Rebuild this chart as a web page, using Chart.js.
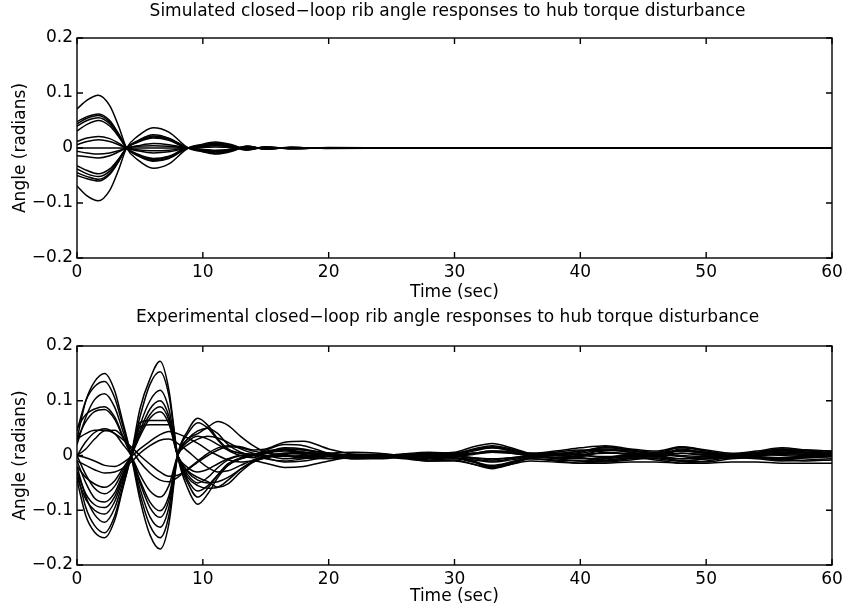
<!DOCTYPE html>
<html>
<head>
<meta charset="utf-8">
<script src="https://cdn.jsdelivr.net/npm/chart.js@4.4.1/dist/chart.umd.min.js"></script>
<style>
    body { margin: 0; background: #fff; }
    canvas { display: block; }
</style>
</head>
<body>
<canvas id="grafico_sim" width="848" height="305"></canvas>
<canvas id="grafico_exp" width="848" height="304"></canvas>
<script>
// tempos (s) onde as curvas foram lidas
const tempoSim = [0, 0.8, 1.7, 2.6, 3.3, 3.94, 4.8, 6.06, 7.3, 8.84, 9.8, 11, 12.3, 13.5, 15, 17, 20, 25, 30, 60];

const sim01 = [0.071, 0.087, 0.096, 0.077, 0.040, 0, -0.021, -0.037, -0.029, 0, 0.006, 0.011, 0.006, -0.003, 0.002, -0.0015, 0.001, 0.0003, 0, 0];
const sim02 = [0.048, 0.057, 0.062, 0.050, 0.026, 0, -0.014, -0.024, -0.019, 0, 0.004, 0.007, 0.004, -0.002, 0.0015, -0.001, 0.0006, 0.0002, 0, 0];
const sim03 = [0.044, 0.054, 0.059, 0.047, 0.025, 0, -0.013, -0.023, -0.018, 0, -0.003, -0.006, -0.002, 0.003, -0.001, 0.001, -0.0005, 0.0002, 0, 0];
const sim04 = [0.040, 0.050, 0.055, 0.044, 0.023, 0, -0.012, -0.021, -0.016, 0, 0.005, 0.008, 0.002, -0.004, 0.002, -0.001, 0.0005, 0, 0, 0];
const sim05 = [0.031, 0.043, 0.050, 0.040, 0.021, 0, -0.011, -0.019, -0.015, 0, -0.004, -0.009, -0.005, 0.002, -0.002, 0.001, -0.0005, 0, 0, 0];
const sim06 = [0.012, 0.018, 0.021, 0.017, 0.009, 0, -0.005, -0.009, -0.007, 0, 0.002, 0.004, 0.002, -0.001, 0.001, 0, 0, 0, 0, 0];
const sim07 = [0.006, 0.012, 0.015, 0.012, 0.006, 0, -0.003, -0.005, -0.004, 0, -0.003, -0.005, -0.002, 0.002, -0.001, 0.0005, 0, 0, 0, 0];
const sim08 = [0, 0, 0, 0, 0, 0, 0, 0, 0, 0, 0.001, 0.002, 0.001, 0, 0, 0, 0, 0, 0, 0];
const sim09 = [-0.006, -0.009, -0.011, -0.009, -0.005, 0, 0.003, 0.004, 0.003, 0, 0.003, 0.006, 0.003, -0.002, 0.001, 0, 0, 0, 0, 0];
const sim10 = [-0.014, -0.016, -0.018, -0.014, -0.007, 0, 0.004, 0.008, 0.006, 0, -0.002, -0.004, -0.003, 0.001, -0.001, 0, 0, 0, 0, 0];
const sim11 = [-0.032, -0.041, -0.047, -0.038, -0.020, 0, 0.010, 0.018, 0.014, 0, 0.004, 0.009, 0.005, -0.002, 0.002, -0.001, 0.0005, 0, 0, 0];
const sim12 = [-0.038, -0.047, -0.052, -0.042, -0.022, 0, 0.011, 0.020, 0.016, 0, -0.005, -0.010, -0.004, 0.003, -0.002, 0.001, -0.0005, 0, 0, 0];
const sim13 = [-0.045, -0.052, -0.057, -0.046, -0.024, 0, 0.012, 0.022, 0.017, 0, 0.003, 0.006, 0.002, -0.003, 0.001, -0.001, 0, 0, 0, 0];
const sim14 = [-0.050, -0.056, -0.060, -0.048, -0.025, 0, 0.013, 0.024, 0.018, 0, -0.004, -0.007, -0.003, 0.002, -0.001, 0.001, 0, 0, 0, 0];
const sim15 = [-0.069, -0.087, -0.096, -0.077, -0.040, 0, 0.021, 0.037, 0.029, 0, -0.006, -0.011, -0.006, 0.003, -0.002, 0.0015, -0.001, -0.0003, 0, 0];

const tempoExp = [0, 0.7, 1.4, 2.2, 3.0, 3.6, 4.3, 5.0, 5.8, 6.6, 7.3, 8.0, 8.8, 9.6, 10.4, 11.2, 12.0, 13.0, 14.0, 15.0, 16.5, 18.0, 20, 22, 24, 26, 28, 30, 31.5, 33, 34.5, 36, 38, 40, 42, 44, 46, 48, 50, 52, 54, 56, 58, 60];

const exp01 = [0.03, 0.10, 0.135, 0.150, 0.118, 0.065, 0, -0.080, -0.145, -0.171, -0.125, 0, 0.045, 0.068, 0.055, 0.030, 0.012, 0.004, 0.002, 0.010, 0.020, 0.018, 0.004, -0.004, -0.002, 0.003, 0.006, 0.004, 0.012, 0.018, 0.012, 0.002, -0.004, 0.000, 0.010, 0.006, -0.002, 0.012, 0.004, -0.004, 0.002, 0.010, 0.004, 0.000];
const exp02 = [0.045, 0.100, 0.126, 0.135, 0.105, 0.058, 0, -0.070, -0.128, -0.150, -0.110, 0, 0.040, 0.060, 0.050, 0.028, 0.010, 0.000, -0.004, 0.004, 0.014, 0.012, 0.002, -0.006, -0.006, -0.002, 0.004, 0.006, 0.016, 0.022, 0.014, 0.004, 0.000, 0.006, 0.016, 0.010, 0.002, 0.016, 0.008, 0.000, 0.004, 0.012, 0.006, 0.004];
const exp03 = [0.02, 0.07, 0.102, 0.113, 0.088, 0.048, 0, -0.060, -0.112, -0.131, -0.095, 0, 0.030, 0.045, 0.050, 0.040, 0.020, 0.006, 0.000, -0.006, -0.010, -0.006, 0.000, 0.002, 0.000, -0.004, -0.008, -0.006, -0.012, -0.018, -0.012, -0.004, 0.000, -0.004, -0.008, -0.004, 0.000, -0.006, -0.002, 0.002, -0.002, -0.006, -0.002, 0.000];
const exp04 = [0.05, 0.075, 0.085, 0.089, 0.070, 0.038, 0, -0.050, -0.095, -0.113, -0.082, 0, 0.030, 0.040, 0.052, 0.062, 0.055, 0.035, 0.018, 0.006, 0.000, -0.004, -0.002, 0.000, 0.002, 0.000, -0.004, -0.002, 0.002, 0.006, 0.004, 0.000, 0.002, 0.008, 0.014, 0.010, 0.006, 0.014, 0.008, 0.002, 0.006, 0.012, 0.008, 0.006];
const exp05 = [0.03, 0.062, 0.080, 0.084, 0.066, 0.036, 0, -0.045, -0.085, -0.101, -0.074, 0, 0.025, 0.035, 0.030, 0.020, 0.010, 0.004, 0.002, 0.008, 0.012, 0.010, 0.004, 0.000, -0.002, -0.004, -0.002, 0.000, -0.006, -0.010, -0.006, 0.000, 0.004, 0.002, -0.004, -0.002, 0.002, -0.002, -0.006, -0.004, 0.000, 0.004, 0.002, 0.002];
const exp06 = [0.00, 0.025, 0.042, 0.049, 0.040, 0.022, 0, -0.035, -0.065, -0.076, -0.055, 0, 0.020, 0.030, 0.035, 0.032, 0.024, 0.012, 0.004, 0.000, -0.002, 0.000, 0.004, 0.006, 0.004, 0.000, -0.002, 0.000, 0.004, 0.008, 0.006, 0.002, 0.006, 0.010, 0.006, 0.002, 0.004, 0.008, 0.004, 0.000, 0.004, 0.008, 0.010, 0.008];
const exp07 = [-0.03, -0.095, -0.128, -0.141, -0.110, -0.060, 0, 0.085, 0.140, 0.172, 0.120, 0, -0.060, -0.089, -0.070, -0.040, -0.018, -0.006, 0.000, 0.006, 0.010, 0.006, -0.002, -0.006, -0.004, 0.000, 0.002, 0.000, -0.010, -0.020, -0.012, -0.004, -0.004, -0.002, 0.006, 0.002, -0.002, 0.004, 0.000, -0.002, 0.000, 0.004, 0.002, 0.000];
const exp08 = [-0.045, -0.110, -0.140, -0.150, -0.118, -0.064, 0, 0.070, 0.130, 0.153, 0.110, 0, -0.050, -0.076, -0.060, -0.035, -0.015, -0.004, 0.002, -0.004, -0.012, -0.010, -0.002, 0.002, 0.000, -0.004, -0.006, -0.004, -0.012, -0.022, -0.014, -0.006, -0.010, -0.014, -0.010, -0.004, -0.008, -0.014, -0.010, -0.004, -0.006, -0.010, -0.008, -0.006];
const exp09 = [-0.02, -0.075, -0.108, -0.122, -0.096, -0.052, 0, 0.055, 0.100, 0.119, 0.085, 0, -0.040, -0.055, -0.060, -0.058, -0.045, -0.025, -0.010, -0.002, 0.004, 0.002, -0.002, -0.004, -0.002, 0.000, 0.002, 0.002, 0.008, 0.014, 0.008, 0.002, 0.000, 0.004, 0.010, 0.006, 0.000, 0.008, 0.004, 0.000, 0.002, 0.006, 0.004, 0.002];
const exp10 = [-0.04, -0.080, -0.100, -0.107, -0.084, -0.045, 0, 0.045, 0.085, 0.100, 0.072, 0, -0.035, -0.050, -0.040, -0.022, -0.008, 0.000, 0.002, 0.000, -0.006, -0.004, 0.000, 0.002, 0.002, 0.000, -0.002, -0.004, -0.008, -0.012, -0.008, -0.002, 0.000, -0.004, -0.010, -0.006, -0.002, -0.010, -0.006, -0.002, -0.004, -0.008, -0.004, -0.002];
const exp11 = [0.00, -0.035, -0.060, -0.070, -0.056, -0.030, 0, 0.040, 0.075, 0.089, 0.065, 0, -0.028, -0.040, -0.048, -0.058, -0.052, -0.030, -0.012, -0.004, 0.002, 0.004, 0.002, 0.000, -0.002, -0.002, 0.000, 0.002, 0.004, 0.006, 0.004, 0.000, -0.004, -0.006, -0.004, 0.000, -0.002, -0.006, -0.004, 0.000, -0.002, -0.004, -0.002, -0.002];
const exp12 = [-0.02, -0.040, -0.052, -0.058, -0.046, -0.025, 0, 0.035, 0.068, 0.080, 0.058, 0, -0.022, -0.030, -0.025, -0.015, -0.006, 0.000, 0.000, 0.004, 0.008, 0.006, 0.002, 0.000, 0.000, 0.002, 0.004, 0.004, 0.010, 0.016, 0.010, 0.004, 0.004, 0.008, 0.012, 0.008, 0.004, 0.010, 0.006, 0.002, 0.004, 0.008, 0.006, 0.004];
const exp13 = [-0.03, -0.070, -0.090, -0.095, -0.075, -0.040, 0, 0.060, 0.064, 0.064, 0.064, 0, -0.045, -0.065, -0.055, -0.035, -0.018, -0.006, 0.000, 0.006, 0.012, 0.010, 0.004, 0.000, -0.002, 0.000, 0.002, 0.000, -0.004, -0.008, -0.004, 0.000, 0.002, 0.000, -0.002, 0.002, 0.004, 0.000, -0.002, 0.000, 0.002, 0.000, -0.002, 0.000];
const exp14 = [-0.01, -0.050, -0.078, -0.085, -0.068, -0.036, 0, 0.052, 0.056, 0.056, 0.056, 0, -0.030, -0.045, -0.050, -0.048, -0.040, -0.025, -0.012, -0.004, 0.000, -0.004, -0.006, -0.004, -0.002, -0.006, -0.010, -0.008, -0.016, -0.022, -0.016, -0.010, -0.012, -0.014, -0.014, -0.012, -0.012, -0.014, -0.014, -0.012, -0.012, -0.014, -0.014, -0.014];
const exp15 = [0.00, 0.012, 0.030, 0.045, 0.046, 0.035, 0.012, -0.012, -0.032, -0.045, -0.048, -0.040, -0.025, -0.010, 0.004, 0.014, 0.018, 0.016, 0.010, 0.012, 0.024, 0.026, 0.012, 0.002, -0.002, 0.000, 0.002, 0.004, 0.010, 0.014, 0.010, 0.004, 0.008, 0.014, 0.018, 0.012, 0.008, 0.016, 0.010, 0.004, 0.008, 0.014, 0.010, 0.008];
const exp16 = [0.00, -0.004, -0.010, -0.018, -0.020, -0.014, -0.002, 0.012, 0.026, 0.038, 0.044, 0.040, 0.032, 0.022, 0.010, 0.000, -0.008, -0.012, -0.010, -0.014, -0.022, -0.020, -0.010, -0.002, 0.000, -0.004, -0.010, -0.010, -0.016, -0.024, -0.016, -0.006, -0.008, -0.010, -0.006, -0.002, -0.006, -0.010, -0.006, -0.002, -0.004, -0.006, -0.004, -0.002];
const exp17 = [0.03, 0.040, 0.046, 0.046, 0.040, 0.030, 0.016, 0.000, -0.016, -0.030, -0.038, -0.036, -0.026, -0.012, 0.000, 0.010, 0.016, 0.014, 0.008, 0.004, 0.000, -0.002, 0.000, 0.002, 0.002, 0.000, -0.002, -0.002, -0.004, -0.006, -0.004, -0.002, 0.000, 0.002, 0.004, 0.004, 0.002, 0.004, 0.002, 0.000, 0.000, 0.002, 0.000, 0.000];
const exp18 = [-0.01, -0.018, -0.026, -0.032, -0.030, -0.024, -0.012, 0.004, 0.018, 0.028, 0.030, 0.022, 0.008, -0.008, -0.022, -0.030, -0.028, -0.018, -0.008, -0.002, 0.004, 0.006, 0.002, -0.002, -0.004, -0.002, 0.000, 0.000, 0.004, 0.008, 0.006, 0.000, -0.006, -0.010, -0.012, -0.008, -0.004, -0.010, -0.012, -0.006, -0.004, -0.008, -0.010, -0.008];

const ticksX = [0, 10, 20, 30, 40, 50, 60];
const ticksY = [-0.2, -0.1, 0, 0.1, 0.2];

const fonte = 'DejaVu Sans';

// moldura fechada com marcas de escala para dentro (estilo MATLAB)
const pluginMoldura = {
    id: 'moldura',
    afterDraw(chart) {
        const ctx = chart.ctx;
        const area = chart.chartArea;
        const escX = chart.scales.x;
        const escY = chart.scales.y;

        ctx.save();
        ctx.strokeStyle = '#000';
        ctx.lineWidth = 1.4;
        ctx.strokeRect(area.left, area.top, area.right - area.left, area.bottom - area.top);

        ctx.beginPath();
        escX.ticks.forEach(function (t) {
            const px = escX.getPixelForValue(t.value);
            ctx.moveTo(px, area.bottom);
            ctx.lineTo(px, area.bottom - 6);
            ctx.moveTo(px, area.top);
            ctx.lineTo(px, area.top + 6);
        });
        escY.ticks.forEach(function (t) {
            const py = escY.getPixelForValue(t.value);
            ctx.moveTo(area.left, py);
            ctx.lineTo(area.left + 6, py);
            ctx.moveTo(area.right, py);
            ctx.lineTo(area.right - 6, py);
        });
        ctx.stroke();
        ctx.restore();
    }
};

// titulo centralizado sobre a area do grafico
function criarPluginTitulo(texto, centroY) {
    return {
        id: 'tituloEixos',
        afterDraw(chart) {
            const ctx = chart.ctx;
            const area = chart.chartArea;
            ctx.save();
            ctx.fillStyle = '#000';
            ctx.font = '17px "' + fonte + '"';
            ctx.textAlign = 'center';
            ctx.textBaseline = 'middle';
            ctx.fillText(texto, (area.left + area.right) / 2 - 7, centroY);
            ctx.restore();
        }
    };
}

function montarDatasets(tempo, listas) {
    return listas.map(function (valores) {
        return {
            data: valores.map(function (v, i) { return { x: tempo[i], y: v }; }),
            borderColor: '#000',
            borderWidth: 1.5,
            pointRadius: 0,
            fill: false,
            cubicInterpolationMode: 'monotone'
        };
    });
}

function plotarGrafico(idCanvas, titulo, datasets, alturaTitulo, centroTitulo, alturaX) {
    const config = {
        type: 'line',
        data: { datasets: datasets },
        plugins: [pluginMoldura, criarPluginTitulo(titulo, centroTitulo)],
        options: {
            responsive: false,
            animation: false,
            layout: { padding: { left: 0, right: 16, top: alturaTitulo, bottom: 0 } },
            plugins: {
                legend: { display: false },
                tooltip: { enabled: false },
                title: { display: false }
            },
            scales: {
                x: {
                    type: 'linear',
                    min: 0,
                    max: 60,
                    afterBuildTicks: function (escala) {
                        escala.ticks = ticksX.map(function (v) { return { value: v }; });
                    },
                    afterFit: function (escala) { escala.height = alturaX; },
                    grid: { display: false, drawTicks: false },
                    border: { display: false },
                    ticks: { color: '#000', padding: 4, font: { family: fonte, size: 17 }, maxRotation: 0 },
                    title: {
                        display: true,
                        text: 'Time (sec)',
                        color: '#000',
                        font: { family: fonte, size: 17 },
                        padding: { top: 0, bottom: 2 }
                    }
                },
                y: {
                    min: -0.2,
                    max: 0.2,
                    afterBuildTicks: function (escala) {
                        escala.ticks = ticksY.map(function (v) { return { value: v }; });
                    },
                    afterFit: function (escala) { escala.width = 77; },
                    grid: { display: false, drawTicks: false },
                    border: { display: false },
                    ticks: {
                        color: '#000',
                        padding: 4,
                        font: { family: fonte, size: 17 },
                        callback: function (v) { return String(Number(v.toFixed(1))).replace('-', '\u2212'); }
                    },
                    title: {
                        display: true,
                        text: 'Angle (radians)',
                        color: '#000',
                        font: { family: fonte, size: 17 },
                        padding: { top: 10, bottom: 0 }
                    }
                }
            }
        }
    };

    return new Chart(document.getElementById(idCanvas), config);
}

plotarGrafico('grafico_sim',
    'Simulated closed\u2212loop rib angle responses to hub torque disturbance',
    montarDatasets(tempoSim, [sim01, sim02, sim03, sim04, sim05, sim06, sim07, sim08, sim09, sim10, sim11, sim12, sim13, sim14, sim15]),
    38, 12, 47);

plotarGrafico('grafico_exp',
    'Experimental closed\u2212loop rib angle responses to hub torque disturbance',
    montarDatasets(tempoExp, [exp01, exp02, exp03, exp04, exp05, exp06, exp07, exp08, exp09, exp10, exp11, exp12, exp13, exp14, exp15, exp16, exp17, exp18]),
    41, 13, 44);
</script>
</body>
</html>
